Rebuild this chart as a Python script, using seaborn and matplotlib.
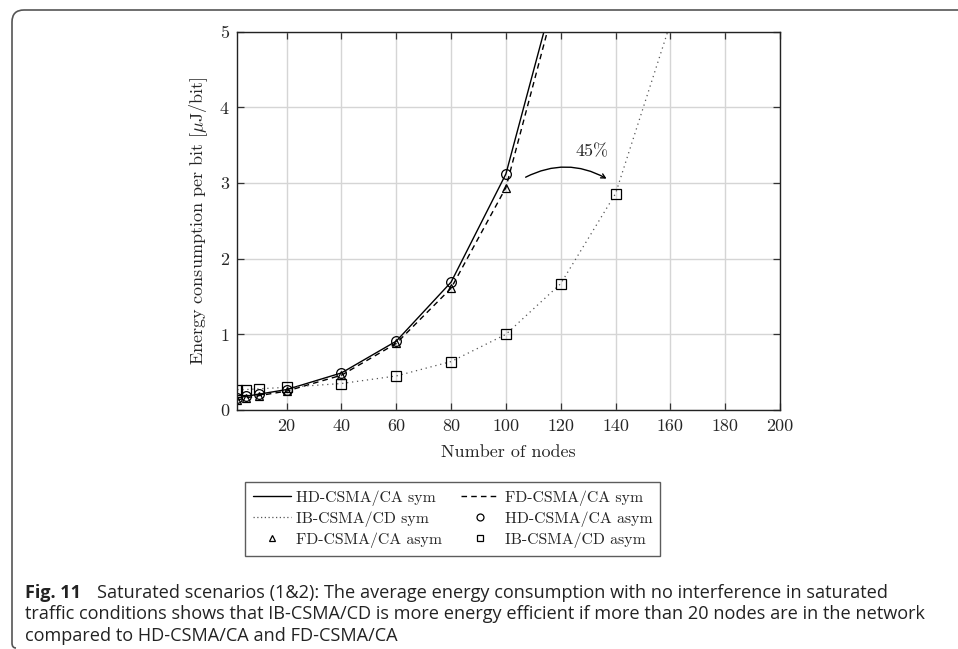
import numpy as np
import pandas as pd
import matplotlib
matplotlib.use("Agg")
import matplotlib.pyplot as plt
import seaborn as sns
from matplotlib.lines import Line2D
from matplotlib.patches import FancyArrowPatch
from matplotlib.path import Path
from matplotlib.patches import PathPatch

# --- dados ---
nos_sym_hd = [2, 5, 10, 20, 40, 60, 80, 100, 120]
hd_sym = [0.16, 0.18, 0.21, 0.27, 0.49, 0.91, 1.69, 3.12, 5.83]
nos_sym_fd = [2, 5, 10, 20, 40, 60, 80, 100, 120]
fd_sym = [0.13, 0.16, 0.19, 0.25, 0.46, 0.88, 1.61, 2.94, 5.67]
nos_sym_ib = [2, 5, 10, 20, 40, 60, 80, 100, 120, 140, 160]
ib_sym = [0.27, 0.27, 0.28, 0.30, 0.35, 0.45, 0.64, 1.00, 1.67, 2.86, 5.11]

nos_asym = [2, 5, 10, 20, 40, 60, 80, 100]
hd_asym = [0.16, 0.18, 0.21, 0.27, 0.49, 0.91, 1.69, 3.12]
fd_asym = [0.13, 0.16, 0.19, 0.25, 0.46, 0.88, 1.61, 2.94]
nos_asym_ib = [2, 5, 10, 20, 40, 60, 80, 100, 120, 140]
ib_asym = [0.27, 0.27, 0.28, 0.30, 0.35, 0.45, 0.64, 1.00, 1.67, 2.86]

x_ticks = [20, 40, 60, 80, 100, 120, 140, 160, 180, 200]
y_ticks = [0, 1, 2, 3, 4, 5]

legenda = ["HD-CSMA/CA sym", "FD-CSMA/CA sym", "IB-CSMA/CD sym",
           "HD-CSMA/CA asym", "FD-CSMA/CA asym", "IB-CSMA/CD asym"]

legenda_fig = "Fig. 11"
legenda_linhas = [
    "Saturated scenarios (1&2): The average energy consumption with no interference in saturated",
    "traffic conditions shows that IB-CSMA/CD is more energy efficient if more than 20 nodes are in the network",
    "compared to HD-CSMA/CA and FD-CSMA/CA",
]

sns.set_style("ticks")
plt.rcParams.update({
    "font.family": "serif",
    "font.serif": ["cmr10"],
    "mathtext.fontset": "cm",
    "axes.formatter.use_mathtext": True,
    "axes.unicode_minus": False,
})

W, H = 958, 649
fig = plt.figure(figsize=(W / 100, H / 100), dpi=100)
ax = fig.add_axes([237.3 / W, 1 - 410 / H, (780 - 237.3) / W, (410 - 31.7) / H])

cor = "black"
sns.lineplot(x=nos_sym_hd, y=hd_sym, ax=ax, color=cor, linestyle="-", lw=1.0)
sns.lineplot(x=nos_sym_fd, y=fd_sym, ax=ax, color=cor, linestyle=(0, (4, 3)), lw=1.0)
sns.lineplot(x=nos_sym_ib, y=ib_sym, ax=ax, color="#555555", linestyle=(0, (1, 3)), lw=0.9)

mk = dict(linestyle="none", markerfacecolor="none", markeredgecolor=cor,
          markeredgewidth=0.9, color=cor)
sns.lineplot(x=nos_asym, y=hd_asym, ax=ax, marker="o", markersize=7, **mk)
sns.lineplot(x=nos_asym, y=fd_asym, ax=ax, marker="^", markersize=6, **mk)
sns.lineplot(x=nos_asym_ib, y=ib_asym, ax=ax, marker="s", markersize=7, **mk)

ax.set_xlim(2, 200)
ax.set_ylim(0, 5)
ax.set_xticks(x_ticks)
ax.set_yticks(y_ticks)
ax.set_xticklabels([str(v) for v in x_ticks])
ax.set_yticklabels([str(v) for v in y_ticks])
ax.grid(True, color="#d5d5d5", lw=1.0)
ax.set_axisbelow(True)
ax.tick_params(direction="in", length=5, width=0.9, color="#333333",
               top=True, right=True, labelsize=13, pad=6)
for s in ax.spines.values():
    s.set_visible(True)
    s.set_color("#222222")
    s.set_linewidth(1.0)

ax.set_xlabel("Number of nodes", fontsize=13, labelpad=8)
ax.set_ylabel(r"Energy consumption per bit [$\mu$J/bit]", fontsize=13, labelpad=7)

# seta 45%
seta = FancyArrowPatch((106.3, 3.06), (137.6, 3.04), connectionstyle="arc3,rad=-0.28",
                       arrowstyle="->,head_length=3,head_width=1.6", color=cor, lw=1.0)
ax.add_patch(seta)
ax.text(131.4, 3.41, "45%", fontsize=13, ha="center", va="center")

# legenda (preenchida por coluna)
hs = {
    legenda[0]: Line2D([], [], color=cor, lw=1.0),
    legenda[1]: Line2D([], [], color=cor, lw=1.0, linestyle=(0, (4, 3))),
    legenda[2]: Line2D([], [], color="#555555", lw=0.9, linestyle=(0, (1, 2))),
    legenda[3]: Line2D([], [], marker="o", markersize=5, **mk),
    legenda[4]: Line2D([], [], marker="^", markersize=4.5, **mk),
    legenda[5]: Line2D([], [], marker="s", markersize=5, **mk),
}
ordem = [legenda[0], legenda[2], legenda[4], legenda[1], legenda[3], legenda[5]]
leg = fig.legend([hs[k] for k in ordem], ordem, loc="center",
                 bbox_to_anchor=(452.5 / W, 1 - 519 / H), ncol=2, fontsize=11.4,
                 frameon=True, fancybox=False, edgecolor="#333333",
                 handlelength=2.4, columnspacing=1.2, handletextpad=0.35,
                 labelspacing=0.34, borderpad=0.5)
leg.get_frame().set_linewidth(1.0)

# moldura da figura (topo e esquerda, canto arredondado)
r = 12
x0, y0 = 12, 10
verts = [(W, H - y0), (x0 + r, H - y0), (x0, H - y0), (x0, H - y0 - r),
         (x0, 6), (x0, 1), (x0 + 4, 1)]
codes = [Path.MOVETO, Path.LINETO, Path.CURVE3, Path.CURVE3,
         Path.LINETO, Path.CURVE3, Path.CURVE3]
verts = [(vx / W, vy / H) for vx, vy in verts]
fig.add_artist(PathPatch(Path(verts, codes), transform=fig.transFigure,
                         fill=False, edgecolor="#555555", lw=1.2))

# legenda do artigo
fam = ["Open Sans", "DejaVu Sans"]
fig.text(25 / W, 1 - 593 / H, legenda_fig, family=fam, fontweight="bold",
         fontsize=13, color="#222222", va="center")
fig.text(97 / W, 1 - 593 / H, legenda_linhas[0], family=fam, fontsize=13.1,
         color="#222222", va="center")
fig.text(25 / W, 1 - 614 / H, legenda_linhas[1], family=fam, fontsize=13.1,
         color="#222222", va="center")
fig.text(25 / W, 1 - 636 / H, legenda_linhas[2], family=fam, fontsize=13.1,
         color="#222222", va="center")

fig.savefig("out.png", dpi=100)
